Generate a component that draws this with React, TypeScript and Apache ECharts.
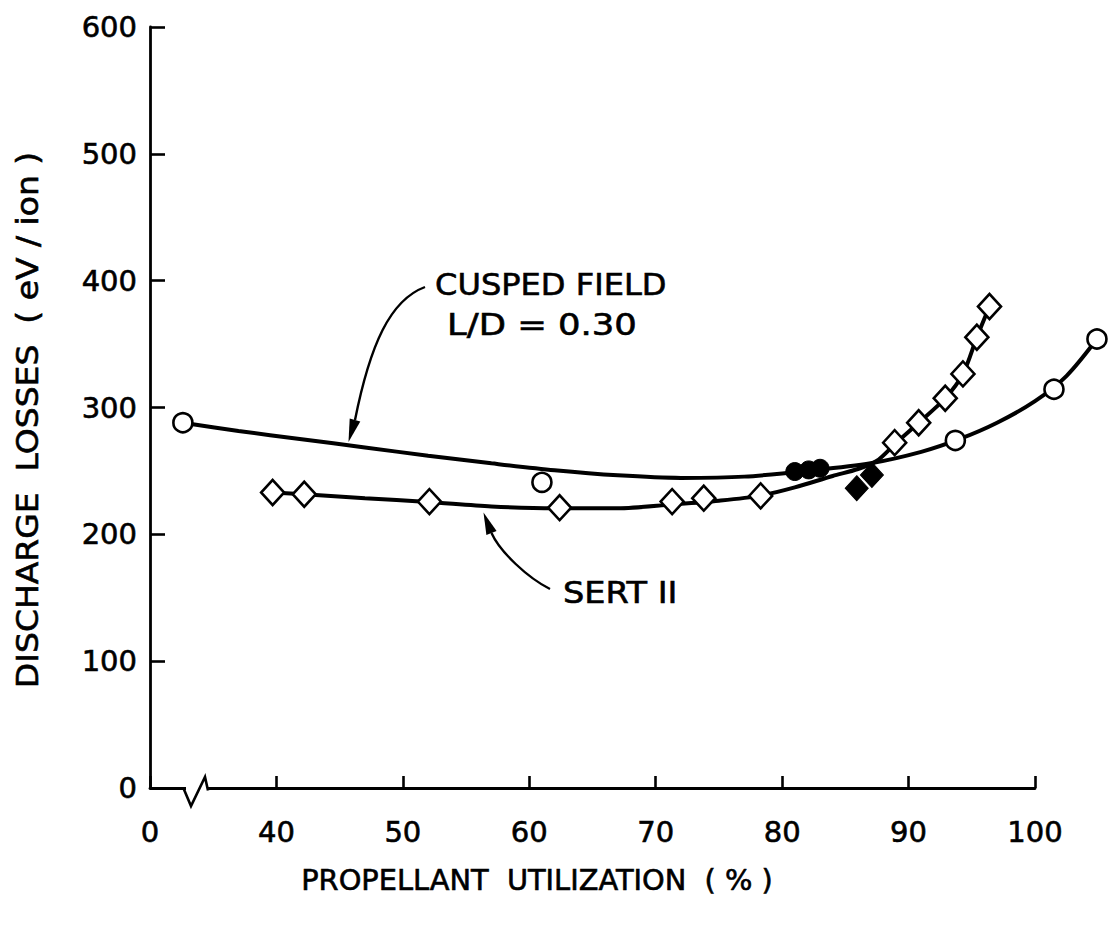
import React, { useEffect, useRef } from 'react';
import * as echarts from 'echarts';

// ---- tick labels ----
const xTickValues = [30, 40, 50, 60, 70, 80, 90, 100];
const xTickLabels = ['0', '40', '50', '60', '70', '80', '90', '100'];
const yTickValues = [0, 100, 200, 300, 400, 500, 600];

// ---- faired curves ----
const cuspedCurveX = [32.6, 37, 42, 47, 52, 57, 62, 67, 72, 77, 82, 87, 91, 94, 97, 100, 102.5, 104.9];
const cuspedCurveY = [288, 281.5, 275, 268.5, 262, 256, 250.5, 246.5, 244.5, 245.5, 250, 256, 265, 275, 288, 305, 325, 354];

const sertCurveX = [39.7, 42.2, 47, 52, 57, 62, 67, 71.3, 75, 78.3, 81, 84, 86, 87.5, 88.9, 90.8, 92.9, 94.3, 95.4, 96.4];
const sertCurveY = [233, 231.6, 228.5, 225.5, 222, 220.5, 220.5, 223.5, 226.5, 230.5, 237, 246, 251.5, 258, 271, 288, 307.3, 326.5, 355.4, 379.6];

// ---- measured points ----
const cuspedOpenX = [32.6, 61.0, 93.7, 101.5, 104.9];
const cuspedOpenY = [288, 241, 274, 314.4, 354];
const cuspedFilledX = [81.0, 82.1, 83.0];
const cuspedFilledY = [249.5, 250.8, 252.1];

const sertOpenX = [39.7, 42.2, 52.1, 62.4, 71.3, 73.8, 78.3, 88.9, 90.8, 92.9, 94.3, 95.4, 96.4];
const sertOpenY = [233, 231.6, 225.8, 221, 225.8, 228.5, 230.3, 272.3, 288, 307.3, 326.5, 355.4, 379.6];
const sertFilledX = [85.9, 87.1];
const sertFilledY = [236.4, 246.8];

// ---- texts ----
const yTitle = 'DISCHARGE  LOSSES  ( eV / ion )';
const xTitle = 'PROPELLANT  UTILIZATION  ( % )';
const cuspedLabel1 = 'CUSPED FIELD';
const cuspedLabel2 = 'L/D = 0.30';
const sertLabel = 'SERT II';

const pairs = (xs: number[], ys: number[]) => xs.map((x, i) => [x, ys[i]]);

const FONT = "'DejaVu Sans', 'Liberation Sans', sans-serif";

// layout
const GRID_LEFT = 150;
const GRID_RIGHT = 82;
const GRID_TOP = 27;
const GRID_BOTTOM = 144;
const X_MIN = 30;
const X_MAX = 100;
const X_MAX_DATA = 106;

export default function App() {
  const ref = useRef<HTMLDivElement>(null);

  useEffect(() => {
    if (!ref.current) return;
    const chart = echarts.init(ref.current, undefined, { renderer: 'svg' });

    const W = 1117;
    const plotW = W - GRID_LEFT - GRID_RIGHT;
    const dataW = (plotW * (X_MAX_DATA - X_MIN)) / (X_MAX - X_MIN);
    const dataRight = W - GRID_LEFT - dataW;

    const textStyle = { fill: '#000', fontFamily: FONT, fontSize: 30, stroke: '#000', lineWidth: 0.6 };

    const lineSeries = (xs: number[], ys: number[]) => ({
      type: 'line',
      xAxisIndex: 1,
      yAxisIndex: 1,
      data: pairs(xs, ys),
      smooth: 0.3,
      showSymbol: false,
      symbol: 'none',
      clip: false,
      silent: true,
      lineStyle: { color: '#000', width: 4 },
      z: 2,
    });

    const scatterSeries = (xs: number[], ys: number[], symbol: string, size: any, open: boolean) => ({
      type: 'scatter',
      xAxisIndex: 1,
      yAxisIndex: 1,
      data: pairs(xs, ys),
      symbol,
      symbolSize: size,
      clip: false,
      silent: true,
      itemStyle: open
        ? { color: '#fff', borderColor: '#000', borderWidth: 2.6, opacity: 1 }
        : { color: '#000', borderColor: '#000', borderWidth: 1, opacity: 1 },
      z: 5,
    });

    chart.setOption({
      animation: false,
      backgroundColor: '#fff',
      grid: [
        { left: GRID_LEFT, right: GRID_RIGHT, top: GRID_TOP, bottom: GRID_BOTTOM, containLabel: false },
        { left: GRID_LEFT, right: dataRight, top: GRID_TOP, bottom: GRID_BOTTOM, containLabel: false },
      ],
      xAxis: [
        {
          type: 'value',
          gridIndex: 0,
          min: X_MIN,
          max: X_MAX,
          interval: 10,
          axisLine: { show: true, lineStyle: { color: '#000', width: 2.8 } },
          axisTick: { show: true, inside: true, length: 12, lineStyle: { color: '#000', width: 2.6 } },
          splitLine: { show: false },
          axisLabel: {
            color: '#000',
            fontFamily: FONT,
            fontSize: 29,
            margin: 29,
            textBorderColor: '#000',
            textBorderWidth: 0.6,
            formatter: (v: number) => {
              const i = xTickValues.indexOf(v);
              return i >= 0 ? xTickLabels[i] : '';
            },
          },
        },
        { type: 'value', gridIndex: 1, min: X_MIN, max: X_MAX_DATA, show: false },
      ],
      yAxis: [
        {
          type: 'value',
          gridIndex: 0,
          min: 0,
          max: 600,
          interval: 100,
          axisLine: { show: true, lineStyle: { color: '#000', width: 2.8 } },
          axisTick: { show: true, inside: true, length: 15, lineStyle: { color: '#000', width: 2.6 } },
          splitLine: { show: false },
          axisLabel: {
            color: '#000',
            fontFamily: FONT,
            fontSize: 29,
            margin: 13,
            textBorderColor: '#000',
            textBorderWidth: 0.6,
            formatter: (v: number) => (yTickValues.indexOf(v) >= 0 ? String(v) : ''),
          },
        },
        { type: 'value', gridIndex: 1, min: 0, max: 600, show: false },
      ],
      series: [
        lineSeries(cuspedCurveX, cuspedCurveY),
        lineSeries(sertCurveX, sertCurveY),
        scatterSeries(cuspedOpenX, cuspedOpenY, 'circle', 19, true),
        scatterSeries(cuspedFilledX, cuspedFilledY, 'circle', 18, false),
        scatterSeries(sertOpenX, sertOpenY, 'diamond', [23, 25], true),
        scatterSeries(sertFilledX, sertFilledY, 'diamond', [23, 25], false),
      ],
      graphic: [
        // axis break
        { type: 'rect', z: 100, shape: { x: 186, y: 783, width: 21, height: 13 }, style: { fill: '#fff' } },
        {
          type: 'polyline',
          z: 101,
          shape: { points: [[184, 789.5], [191, 806], [205, 777], [208, 790.5]] },
          style: { stroke: '#000', lineWidth: 2.6, fill: 'none' },
        },
        // y title
        {
          type: 'text',
          z: 100,
          x: 28,
          y: 420,
          rotation: Math.PI / 2,
          scaleX: 1.1,
          style: { ...textStyle, text: yTitle, fontSize: 30, align: 'center', verticalAlign: 'middle' },
        },
        // x title
        {
          type: 'text',
          z: 100,
          x: 537,
          y: 881,
          scaleX: 1.03,
          style: { ...textStyle, text: xTitle, fontSize: 28, align: 'center', verticalAlign: 'middle' },
        },
        // annotations
        {
          type: 'text',
          z: 100,
          x: 435,
          y: 284,
          scaleX: 1.07,
          style: { ...textStyle, text: cuspedLabel1, align: 'left', verticalAlign: 'middle' },
        },
        {
          type: 'text',
          z: 100,
          x: 447,
          y: 325,
          scaleX: 1.18,
          style: { ...textStyle, text: cuspedLabel2, align: 'left', verticalAlign: 'middle' },
        },
        {
          type: 'text',
          z: 100,
          x: 563,
          y: 593,
          scaleX: 1.12,
          style: { ...textStyle, text: sertLabel, align: 'left', verticalAlign: 'middle' },
        },
        // arrow to cusped field curve
        {
          type: 'bezierCurve',
          z: 100,
          shape: { x1: 425, y1: 287, cpx1: 390, cpy1: 300, cpx2: 370, cpy2: 345, x2: 355, y2: 420 },
          style: { stroke: '#000', lineWidth: 2.4, fill: 'none' },
        },
        {
          type: 'polygon',
          z: 100,
          shape: { points: [[348.5, 442], [360.3, 421.4], [349.7, 418.4]] },
          style: { fill: '#000' },
        },
        // arrow to SERT II curve
        {
          type: 'bezierCurve',
          z: 100,
          shape: { x1: 550, y1: 589, cpx1: 528, cpy1: 578, cpx2: 500, cpy2: 552, x2: 491.5, y2: 533 },
          style: { stroke: '#000', lineWidth: 2.4, fill: 'none' },
        },
        {
          type: 'polygon',
          z: 100,
          shape: { points: [[483.5, 512.5], [496.6, 531.0], [486.4, 535.0]] },
          style: { fill: '#000' },
        },
      ],
    });

    return () => chart.dispose();
  }, []);

  return (
    <div
      ref={ref}
      style={{ position: 'fixed', left: 0, top: 0, width: 1117, height: 932, background: '#fff' }}
    />
  );
}
